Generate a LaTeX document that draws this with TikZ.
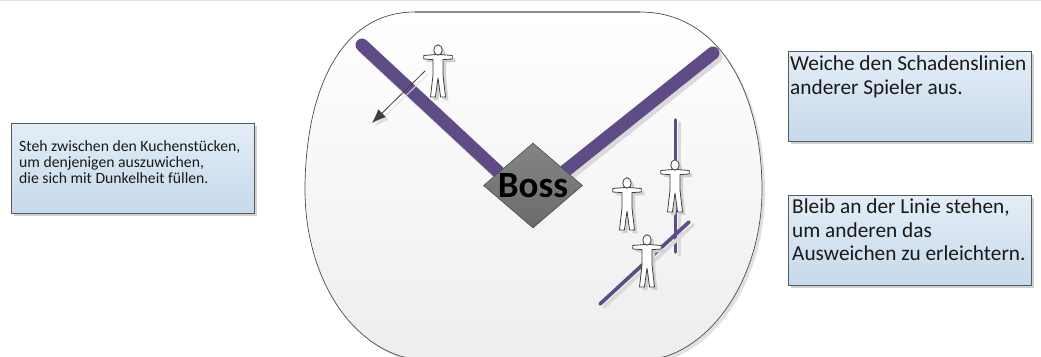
\documentclass[tikz,border=0pt]{standalone}
\usepackage{fontspec}
\setmainfont{Carlito}
\usetikzlibrary{shadows,arrows.meta,shapes.geometric}
\definecolor{lila}{HTML}{5F4B85}
\definecolor{shad}{HTML}{DADADA}
\definecolor{BoxTop}{HTML}{E4EDF6}
\definecolor{BoxBot}{HTML}{C6D9EB}
\tikzset{
  infobox/.style={draw=black!65,line width=0.9pt,top color=BoxTop,bottom color=BoxBot,
    rectangle,inner sep=0pt,anchor=north west,
    drop shadow={shadow xshift=3pt,shadow yshift=-3pt,fill=black,opacity=0.18}},
  infotext/.style={anchor=north west,inner sep=0pt,align=left,text=black!90},
  beam/.style={draw=lila,line cap=round,line width=13pt},
  beamshadow/.style={draw=shad,line cap=round,line width=13pt},
  thinbeam/.style={draw=lila,line cap=round,line width=3.6pt},
  thinshadow/.style={draw=shad,line cap=round,line width=3.6pt},
  stickfigure/.pic={
    \fill[black!18,shift={(3,3)}] (-2,4.5)--(-14.3,5.5)--(-14.3,9)--(-5,9.6)--(-5,25)--(-7.5,47)--(-2.6,47)--(0,28)--(2.6,47)--(7.5,47)--(5,25)--(5,9.6)--(14.3,9)--(14.3,5.5)--(2,4.5)--cycle;
    \fill[black!18] (3,3) ellipse [x radius=4.2,y radius=5.2];
    \draw[fill=white,draw=black!75,line width=0.8pt,line join=round] (-2,4.5)--(-14.3,5.5)--(-14.3,9)--(-5,9.6)--(-5,25)--(-7.5,47)--(-2.6,47)--(0,28)--(2.6,47)--(7.5,47)--(5,25)--(5,9.6)--(14.3,9)--(14.3,5.5)--(2,4.5)--cycle;
    \draw[fill=white,draw=black!75,line width=0.8pt] (0,0) ellipse [x radius=4.2,y radius=5.2];
  }
}
\begin{document}
\begin{tikzpicture}[x=1pt,y=-1pt]
\useasboundingbox (0,0) rectangle (1041,356);
\clip (0,0) rectangle (1041,356);
\fill[white] (0,0) rectangle (1041,356);
\draw[black!12,line width=1.5pt] (0,0) -- (1041,0);
% arena
\fill[black!12] (418,15) -- (643,15) .. controls (725,15) and (765,100) .. (765,193)
   .. controls (765,270) and (725,340) .. (670,359) -- (670,380) -- (403,380) -- (403,359)
   .. controls (345,340) and (308,270) .. (308,193) .. controls (308,100) and (340,15) .. (418,15) -- cycle;
\path[draw=black!70,line width=0.7pt,top color=white,bottom color=black!7]
   (415,12) -- (640,12) .. controls (722,12) and (762,97) .. (762,190)
   .. controls (762,267) and (722,337) .. (667,356) .. controls (640,365) and (430,365) .. (400,356)
   .. controls (342,337) and (305,267) .. (305,190) .. controls (305,97) and (337,12) .. (415,12) -- cycle;
\draw[black!45,line width=1.3pt] (415,12) -- (640,12);
% named points
\coordinate (bl) at (362,45);
\coordinate (br) at (713,53);
\coordinate (ble) at (520,192);
\coordinate (bre) at (545,187);
\coordinate (ve1) at (675.5,120);
\coordinate (ve2) at (675.5,252);
\coordinate (di1) at (600,304);
\coordinate (di2) at (689,222);
\coordinate (ar1) at (425,71);
\coordinate (ar2) at (372,123);
\coordinate (bc) at (533,185.5);
% boss beams
\draw[beamshadow] ([shift={(3,4)}]br) -- ([shift={(3,4)}]bre);
\draw[beamshadow] ([shift={(3,4)}]bl) -- ([shift={(3,4)}]ble);
\draw[beam] (bl) -- (ble);
\draw[beam] (br) -- (bre);
% boss
\node[diamond,shape aspect=1.16,draw=black!70,line width=0.6pt,top color=black!48,bottom color=black!58,
  minimum width=99pt,minimum height=85pt,inner sep=0pt] (boss) at (bc) {};
\node[font=\bfseries\fontsize{37}{40}\selectfont,text=black,inner sep=0pt] (bosstext) at (533,186) {Boss};
% arrow
\draw[black!12,line width=0.8pt,-{Latex[length=14pt,width=11pt]}] ([shift={(3,3)}]ar1) -- ([shift={(3,3)}]ar2);
\draw[black!75,line width=0.8pt,-{Latex[length=14pt,width=11pt]}] (ar1) -- (ar2);
% thin lines
\draw[thinshadow] ([shift={(4,3)}]ve1) -- ([shift={(4,3)}]ve2);
\draw[thinbeam] (ve1) -- (ve2);
\draw[thinshadow] ([shift={(4,3)}]di1) -- ([shift={(4,3)}]di2);
\draw[thinbeam] (di1) -- (di2);
% figures
\pic at (438,50) {stickfigure};
\pic at (675,165) {stickfigure};
\pic at (627,183) {stickfigure};
\pic at (647,240) {stickfigure};
% boxes
\node[infobox,minimum width=243pt,minimum height=90pt] (b1) at (11,123) {};
\node[infotext,font=\fontsize{15.7}{16.3}\selectfont] (t1) at (19,140) {Steh zwischen den Kuchenstücken,\\um denjenigen auszuwichen,\\die sich mit Dunkelheit füllen.};
\node[infobox,minimum width=243.5pt,minimum height=90pt] (b2) at (787.5,51) {};
\node[infotext,font=\fontsize{21.3}{24}\selectfont] (t2) at (790,56) {Weiche den Schadenslinien\\anderer Spieler aus.};
\node[infobox,minimum width=243.5pt,minimum height=90pt] (b3) at (787.5,195) {};
\node[infotext,font=\fontsize{21.3}{23.5}\selectfont] (t3) at (792,199) {Bleib an der Linie stehen,\\um anderen das\\Ausweichen zu erleichtern.};
\end{tikzpicture}
\end{document}
